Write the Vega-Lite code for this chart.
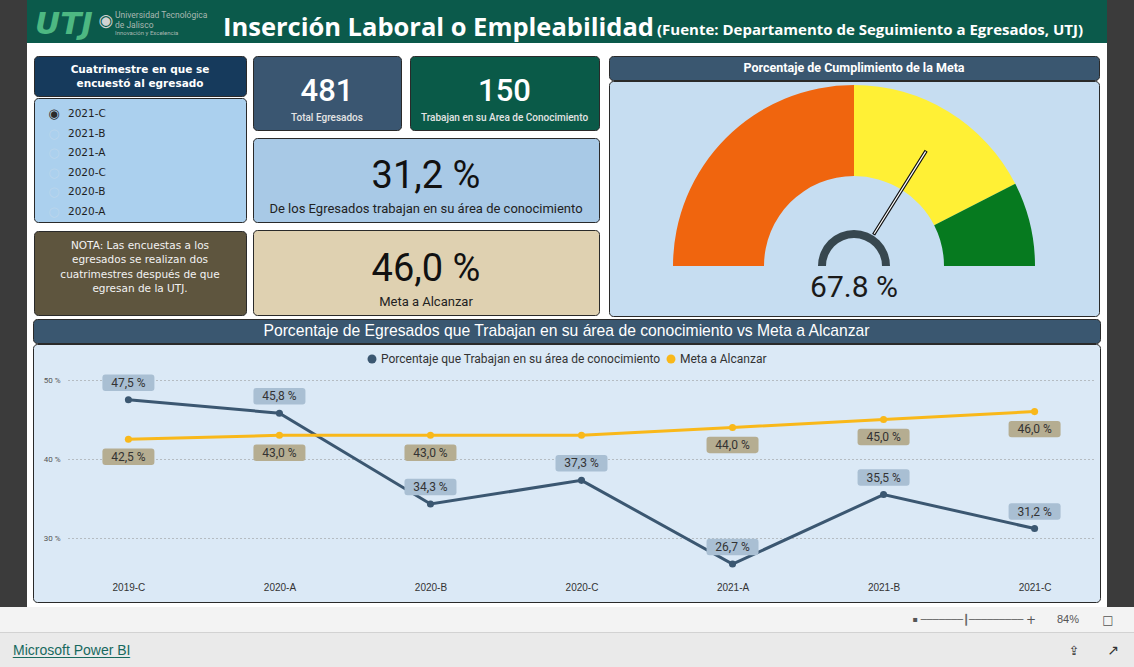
{
  "$schema": "https://vega.github.io/schema/vega-lite/v6.json",
  "padding": 0,
  "background": "#ffffff",
  "spacing": 0,
  "config": {
    "view": {"stroke": null},
    "font": "Roboto",
    "locale": {"number": {"decimal": ",", "thousands": ".", "grouping": [3], "currency": ["", " %"]}}
  },
  "vconcat": [
    {
      "spacing": 0,
      "hconcat": [
        {"width": 27, "height": 607, "view": {"fill": "#3b3b3b"}, "data": {"values": [{}]}, "mark": {"type": "text", "text": "", "fontSize": 0}},
        {
          "spacing": 0,
          "vconcat": [
            {
              "width": 1080, "height": 43,
              "view": {"fill": "#0b5a4b"},
              "data": {"values": [{}]},
              "layer": [
                {"mark": {"type": "text", "text": "UTJ", "align": "left", "baseline": "alphabetic", "dx": -532, "dy": 12.5, "font": "DejaVu Sans", "fontWeight": "bold", "fontStyle": "italic", "fontSize": 31, "color": "#4db882"}},
                {"mark": {"type": "text", "text": "◉", "align": "center", "baseline": "middle", "dx": -461, "dy": -0.5, "font": "DejaVu Sans", "fontSize": 17, "color": "#d2d2d2"}},
                {"mark": {"type": "text", "text": "Universidad Tecnológica", "align": "left", "baseline": "middle", "dx": -452, "dy": -7, "font": "Roboto", "fontSize": 8.5, "color": "#a9b8b2"}},
                {"mark": {"type": "text", "text": "de Jalisco", "align": "left", "baseline": "middle", "dx": -452, "dy": 3.5, "font": "Roboto", "fontSize": 8.5, "color": "#a9b8b2"}},
                {"mark": {"type": "text", "text": "Innovación y Excelencia", "align": "left", "baseline": "middle", "dx": -452, "dy": 11.5, "font": "Roboto", "fontSize": 6, "color": "#a9b8b2"}},
                {"mark": {"type": "text", "text": "Inserción Laboral o Empleabilidad", "align": "left", "baseline": "alphabetic", "dx": -344, "dy": 14, "font": "Open Sans", "fontWeight": "bold", "fontSize": 25.5, "color": "#ffffff"}},
                {"mark": {"type": "text", "text": "(Fuente: Departamento de Seguimiento a Egresados, UTJ)", "align": "left", "baseline": "alphabetic", "dx": 90, "dy": 13.5, "font": "Open Sans", "fontWeight": "bold", "fontSize": 15, "color": "#ffffff"}}
              ]
            },
            {"width": 1, "height": 12, "data": {"values": [{}]}, "mark": {"type": "text", "text": "", "fontSize": 0}},
            {
              "spacing": 0,
              "hconcat": [
                {"width": 6, "height": 259, "data": {"values": [{}]}, "mark": {"type": "text", "text": "", "fontSize": 0}},
                {
                  "spacing": 8,
                  "hconcat": [
                    {
                      "spacing": 5,
                      "hconcat": [
                        {
                          "spacing": 7,
                          "vconcat": [
                            {
                              "spacing": 0,
                              "vconcat": [
                                {
                                  "width": 212, "height": 40,
                                  "view": {"fill": "#163a5c", "stroke": "#2a2a2a", "strokeWidth": 1, "cornerRadius": 4},
                                  "data": {"values": [{}]},
                                  "mark": {"type": "text", "text": ["Cuatrimestre en que se", "encuestó al egresado"], "lineHeight": 13.5, "align": "center", "baseline": "middle", "dy": -6, "font": "DejaVu Sans", "fontWeight": "bold", "fontSize": 10.5, "color": "#ffffff"}
                                },
                                {
                                  "width": 212, "height": 124,
                                  "view": {"fill": "#abd0ee", "stroke": "#2a2a2a", "strokeWidth": 1, "cornerRadius": 4},
                                  "data": {"values": [
                                    {"cuatrimestre": "2021-C", "seleccionado": true},
                                    {"cuatrimestre": "2021-B", "seleccionado": false},
                                    {"cuatrimestre": "2021-A", "seleccionado": false},
                                    {"cuatrimestre": "2020-C", "seleccionado": false},
                                    {"cuatrimestre": "2020-B", "seleccionado": false},
                                    {"cuatrimestre": "2020-A", "seleccionado": false}
                                  ]},
                                  "encoding": {
                                    "y": {"field": "cuatrimestre", "type": "nominal", "sort": null, "scale": {"type": "point", "range": [16, 114], "padding": 0}, "axis": null}
                                  },
                                  "layer": [
                                    {"mark": {"type": "text", "align": "left", "baseline": "middle", "dx": -72, "font": "DejaVu Sans", "fontSize": 10.5, "color": "#1e1e1e"}, "encoding": {"text": {"field": "cuatrimestre", "type": "nominal"}}},
                                    {"transform": [{"filter": "datum.seleccionado"}], "mark": {"type": "text", "text": "◉", "align": "center", "baseline": "middle", "dx": -86, "font": "DejaVu Sans", "fontSize": 13, "color": "#2b2b2b"}},
                                    {"transform": [{"filter": "!datum.seleccionado"}], "mark": {"type": "text", "text": "○", "align": "center", "baseline": "middle", "dx": -86, "font": "DejaVu Sans", "fontSize": 13, "color": "#bcd6ec"}}
                                  ]
                                }
                              ]
                            },
                            {
                              "width": 212, "height": 84,
                              "view": {"fill": "#5e553e", "stroke": "#2a2a2a", "strokeWidth": 1, "cornerRadius": 4},
                              "data": {"values": [{}]},
                              "mark": {"type": "text", "text": ["NOTA: Las encuestas a los", "egresados se realizan dos", "cuatrimestres después de que", "egresan de la UTJ."], "lineHeight": 14.3, "align": "center", "baseline": "middle", "dy": -27, "font": "DejaVu Sans", "fontSize": 10.5, "color": "#f2f2f2"}
                            }
                          ]
                        },
                        {
                          "spacing": 6,
                          "vconcat": [
                            {
                              "spacing": 7,
                              "hconcat": [
                                {
                                  "width": 148, "height": 74,
                                  "view": {"fill": "#3a5671", "stroke": "#2a2a2a", "strokeWidth": 1, "cornerRadius": 4},
                                  "data": {"values": [{"total_egresados": 481}]},
                                  "layer": [
                                    {"mark": {"type": "text", "align": "center", "baseline": "middle", "dy": -1.5, "font": "Roboto", "fontWeight": 500, "fontSize": 31, "color": "#ffffff"}, "encoding": {"text": {"field": "total_egresados", "type": "quantitative", "format": "d"}}},
                                    {"mark": {"type": "text", "text": "Total Egresados", "align": "center", "baseline": "middle", "dy": 25, "font": "Roboto", "fontWeight": 500, "fontSize": 10, "color": "#e4e4e4"}}
                                  ]
                                },
                                {
                                  "width": 189, "height": 74,
                                  "view": {"fill": "#0a5a48", "stroke": "#2a2a2a", "strokeWidth": 1, "cornerRadius": 4},
                                  "data": {"values": [{"trabajan_area": 150}]},
                                  "layer": [
                                    {"mark": {"type": "text", "align": "center", "baseline": "middle", "dy": -1.5, "font": "Roboto", "fontWeight": 500, "fontSize": 31, "color": "#ffffff"}, "encoding": {"text": {"field": "trabajan_area", "type": "quantitative", "format": "d"}}},
                                    {"mark": {"type": "text", "text": "Trabajan en su Area de Conocimiento", "align": "center", "baseline": "middle", "dy": 25, "font": "Roboto", "fontWeight": 500, "fontSize": 10, "color": "#e4e4e4"}}
                                  ]
                                }
                              ]
                            },
                            {
                              "width": 346, "height": 84,
                              "view": {"fill": "#a8c9e6", "stroke": "#2a2a2a", "strokeWidth": 1, "cornerRadius": 4},
                              "data": {"values": [{"porcentaje": 31.2}]},
                              "layer": [
                                {"mark": {"type": "text", "align": "center", "baseline": "middle", "dy": -3.5, "font": "Roboto", "fontSize": 38, "color": "#111111"}, "encoding": {"text": {"field": "porcentaje", "type": "quantitative", "format": "$.1f"}}},
                                {"mark": {"type": "text", "text": "De los Egresados trabajan en su área de conocimiento", "align": "center", "baseline": "middle", "dy": 29, "font": "Roboto", "fontSize": 13, "color": "#222222"}}
                              ]
                            },
                            {
                              "width": 346, "height": 85,
                              "view": {"fill": "#dfd1b1", "stroke": "#2a2a2a", "strokeWidth": 1, "cornerRadius": 4},
                              "data": {"values": [{"meta": 46.0}]},
                              "layer": [
                                {"mark": {"type": "text", "align": "center", "baseline": "middle", "dy": -2.5, "font": "Roboto", "fontSize": 38, "color": "#111111"}, "encoding": {"text": {"field": "meta", "type": "quantitative", "format": "$.1f"}}},
                                {"mark": {"type": "text", "text": "Meta a Alcanzar", "align": "center", "baseline": "middle", "dy": 29.5, "font": "Roboto", "fontSize": 13, "color": "#222222"}}
                              ]
                            }
                          ]
                        }
                      ]
                    },
                    {
                      "spacing": -2,
                      "vconcat": [
                        {
                          "width": 490, "height": 24,
                          "view": {"fill": "#3a5770", "stroke": "#2a2a2a", "strokeWidth": 1, "cornerRadius": 4},
                          "data": {"values": [{}]},
                          "mark": {"type": "text", "text": "Porcentaje de Cumplimiento de la Meta", "align": "center", "baseline": "middle", "font": "Roboto", "fontWeight": "bold", "fontSize": 12.5, "color": "#ffffff"}
                        },
                        {
                          "width": 490, "height": 235,
                          "view": {"fill": "#c6ddf1", "stroke": "#2a2a2a", "strokeWidth": 1, "cornerRadius": 4},
                          "data": {"values": [
                            {"rango": "Bajo", "inicio": 0, "fin": 50},
                            {"rango": "Medio", "inicio": 50, "fin": 85},
                            {"rango": "Alto", "inicio": 85, "fin": 100}
                          ]},
                          "layer": [
                            {
                              "transform": [{"filter": {"field": "rango", "equal": "Bajo"}}],
                              "mark": {"type": "arc", "radius": 181, "radius2": 90, "color": "#f0650e", "y": "height", "yOffset": -50},
                              "encoding": {
                                "theta": {"field": "inicio", "type": "quantitative", "stack": null, "scale": {"domain": [0, 100], "range": [-1.5708, 1.5708]}},
                                "theta2": {"field": "fin"}
                              }
                            },
                            {
                              "transform": [{"filter": {"field": "rango", "equal": "Medio"}}],
                              "mark": {"type": "arc", "radius": 181, "radius2": 90, "color": "#fff035", "y": "height", "yOffset": -50},
                              "encoding": {
                                "theta": {"field": "inicio", "type": "quantitative", "stack": null, "scale": {"domain": [0, 100], "range": [-1.5708, 1.5708]}},
                                "theta2": {"field": "fin"}
                              }
                            },
                            {
                              "transform": [{"filter": {"field": "rango", "equal": "Alto"}}],
                              "mark": {"type": "arc", "radius": 181, "radius2": 90, "color": "#067a1f", "y": "height", "yOffset": -50},
                              "encoding": {
                                "theta": {"field": "inicio", "type": "quantitative", "stack": null, "scale": {"domain": [0, 100], "range": [-1.5708, 1.5708]}},
                                "theta2": {"field": "fin"}
                              }
                            },
                            {
                              "data": {"values": [{}]},
                              "mark": {"type": "arc", "theta": -1.5708, "theta2": 1.5708, "radius": 36, "radius2": 28, "color": "#37474f", "y": "height", "yOffset": -50},
                              "encoding": {}
                            },
                            {
                              "data": {"values": [{"cumplimiento": 67.8}]},
                              "mark": {"type": "arc", "radius": 136, "radius2": 37, "filled": false, "color": "#111111", "strokeWidth": 3.5, "y": "height", "yOffset": -50},
                              "encoding": {
                                "theta": {"field": "cumplimiento", "type": "quantitative", "stack": null, "scale": {"domain": [0, 100], "range": [-1.5708, 1.5708]}},
                                "theta2": {"field": "cumplimiento"}
                              }
                            },
                            {
                              "data": {"values": [{"cumplimiento": 67.8}]},
                              "mark": {"type": "arc", "radius": 135, "radius2": 38, "filled": false, "color": "#ffffff", "strokeWidth": 1.2, "y": "height", "yOffset": -50},
                              "encoding": {
                                "theta": {"field": "cumplimiento", "type": "quantitative", "stack": null, "scale": {"domain": [0, 100], "range": [-1.5708, 1.5708]}},
                                "theta2": {"field": "cumplimiento"}
                              }
                            },
                            {
                              "data": {"values": [{"cumplimiento": 67.8, "texto": "67.8 %"}]},
                              "mark": {"type": "text", "align": "center", "baseline": "middle", "dy": 89.5, "font": "Roboto", "fontSize": 30, "color": "#1a1a1a"},
                              "encoding": {"text": {"field": "texto", "type": "nominal"}}
                            }
                          ]
                        }
                      ]
                    }
                  ]
                }
              ]
            },
            {"width": 1, "height": 1, "data": {"values": [{}]}, "mark": {"type": "text", "text": "", "fontSize": 0}},
            {
              "spacing": 0,
              "hconcat": [
                {"width": 5, "height": 282, "data": {"values": [{}]}, "mark": {"type": "text", "text": "", "fontSize": 0}},
                {
                  "spacing": -2,
                  "vconcat": [
                    {
                      "width": 1067, "height": 24,
                      "view": {"fill": "#3a5770", "stroke": "#2a2a2a", "strokeWidth": 1, "cornerRadius": 4},
                      "data": {"values": [{}]},
                      "mark": {"type": "text", "text": "Porcentaje de Egresados que Trabajan en su área de conocimiento vs Meta a Alcanzar", "align": "center", "baseline": "middle", "font": "Liberation Sans", "fontSize": 15.7, "color": "#ffffff"}
                    },
                    {
                      "width": 1067, "height": 258,
                      "view": {"fill": "#dbe9f6", "stroke": "#2a2a2a", "strokeWidth": 1, "cornerRadius": 4},
                      "data": {"values": [
                        {"cuatrimestre": "2019-C", "serie": "Porcentaje que Trabajan en su área de conocimiento", "valor": 47.5},
                        {"cuatrimestre": "2020-A", "serie": "Porcentaje que Trabajan en su área de conocimiento", "valor": 45.8},
                        {"cuatrimestre": "2020-B", "serie": "Porcentaje que Trabajan en su área de conocimiento", "valor": 34.3},
                        {"cuatrimestre": "2020-C", "serie": "Porcentaje que Trabajan en su área de conocimiento", "valor": 37.3},
                        {"cuatrimestre": "2021-A", "serie": "Porcentaje que Trabajan en su área de conocimiento", "valor": 26.7},
                        {"cuatrimestre": "2021-B", "serie": "Porcentaje que Trabajan en su área de conocimiento", "valor": 35.5},
                        {"cuatrimestre": "2021-C", "serie": "Porcentaje que Trabajan en su área de conocimiento", "valor": 31.2},
                        {"cuatrimestre": "2019-C", "serie": "Meta a Alcanzar", "valor": 42.5},
                        {"cuatrimestre": "2020-A", "serie": "Meta a Alcanzar", "valor": 43.0},
                        {"cuatrimestre": "2020-B", "serie": "Meta a Alcanzar", "valor": 43.0},
                        {"cuatrimestre": "2020-C", "serie": "Meta a Alcanzar", "valor": 43.0},
                        {"cuatrimestre": "2021-A", "serie": "Meta a Alcanzar", "valor": 44.0},
                        {"cuatrimestre": "2021-B", "serie": "Meta a Alcanzar", "valor": 45.0},
                        {"cuatrimestre": "2021-C", "serie": "Meta a Alcanzar", "valor": 46.0}
                      ]},
                      "encoding": {
                        "x": {"field": "cuatrimestre", "type": "ordinal", "sort": ["2019-C", "2020-A", "2020-B", "2020-C", "2021-A", "2021-B", "2021-C"], "scale": {"type": "point", "range": [35, 1062], "padding": 0.4}, "axis": {"title": null, "domain": false, "ticks": false, "tickSize": 0, "labelPadding": -15, "labelBaseline": "middle", "labelAngle": 0, "labelFont": "Liberation Sans", "labelFontSize": 10, "labelColor": "#333333"}},
                        "y": {"field": "valor", "type": "quantitative", "scale": {"domain": [21.9, 54.56], "nice": false, "zero": false}, "axis": {"title": null, "domain": false, "ticks": false, "tickSize": 0, "values": [30, 40, 50], "format": "$.0f", "labelPadding": -27, "labelFont": "Roboto", "labelFontSize": 8, "labelColor": "#555555", "grid": true, "gridColor": "#8f8f8f", "gridDash": [1, 3]}},
                        "color": {"field": "serie", "type": "nominal", "scale": {"domain": ["Porcentaje que Trabajan en su área de conocimiento", "Meta a Alcanzar"], "range": ["#3b5771", "#f9b81a"]}, "legend": {"title": null, "orient": "none", "legendX": 366, "legendY": 353, "direction": "horizontal", "symbolType": "circle", "symbolSize": 80, "symbolStrokeWidth": 0, "labelFont": "Roboto", "labelFontSize": 12, "labelColor": "#333333", "labelLimit": 400, "columnPadding": 4, "labelOffset": 3}}
                      },
                      "layer": [
                        {"mark": {"type": "line", "strokeWidth": 3}},
                        {"mark": {"type": "point", "filled": true, "size": 50, "opacity": 1}},
                        {
                          "transform": [{"filter": {"field": "serie", "equal": "Porcentaje que Trabajan en su área de conocimiento"}}],
                          "mark": {"type": "point", "shape": "M-0.885,-0.317L0.885,-0.317Q1,-0.317,1,-0.2L1,0.2Q1,0.317,0.885,0.317L-0.885,0.317Q-1,0.317,-1,0.2L-1,-0.2Q-1,-0.317,-0.885,-0.317Z", "size": 2704, "filled": true, "opacity": 1, "yOffset": -17},
                          "encoding": {"color": {"value": "#a9bfd3"}}
                        },
                        {
                          "transform": [{"filter": "datum.serie == 'Meta a Alcanzar' && datum.cuatrimestre != '2020-C'"}],
                          "mark": {"type": "point", "shape": "M-0.885,-0.317L0.885,-0.317Q1,-0.317,1,-0.2L1,0.2Q1,0.317,0.885,0.317L-0.885,0.317Q-1,0.317,-1,0.2L-1,-0.2Q-1,-0.317,-0.885,-0.317Z", "size": 2704, "filled": true, "opacity": 1, "yOffset": 17.5},
                          "encoding": {"color": {"value": "#b5ad91"}}
                        },
                        {
                          "transform": [{"filter": {"field": "serie", "equal": "Porcentaje que Trabajan en su área de conocimiento"}}],
                          "mark": {"type": "text", "align": "center", "baseline": "middle", "dy": -17, "font": "Roboto", "fontSize": 12},
                          "encoding": {"text": {"field": "valor", "type": "quantitative", "format": "$.1f"}, "color": {"value": "#333333"}}
                        },
                        {
                          "transform": [{"filter": "datum.serie == 'Meta a Alcanzar' && datum.cuatrimestre != '2020-C'"}],
                          "mark": {"type": "text", "align": "center", "baseline": "middle", "dy": 17.5, "font": "Roboto", "fontSize": 12},
                          "encoding": {"text": {"field": "valor", "type": "quantitative", "format": "$.1f"}, "color": {"value": "#333333"}}
                        }
                      ]
                    }
                  ]
                }
              ]
            }
          ]
        },
        {"width": 27, "height": 607, "view": {"fill": "#3b3b3b"}, "data": {"values": [{}]}, "mark": {"type": "text", "text": "", "fontSize": 0}}
      ]
    },
    {
      "width": 1134, "height": 25,
      "view": {"fill": "#f3f3f3"},
      "data": {"values": [{}]},
      "layer": [
        {"mark": {"type": "text", "text": "▪", "align": "center", "baseline": "middle", "dx": 348, "font": "DejaVu Sans", "fontSize": 8, "color": "#555555"}},
        {"mark": {"type": "text", "text": "───────┃─────────", "align": "center", "baseline": "middle", "dx": 405, "font": "DejaVu Sans", "fontSize": 10, "color": "#666666"}},
        {"mark": {"type": "text", "text": "+", "align": "center", "baseline": "middle", "dx": 464, "font": "DejaVu Sans", "fontSize": 12, "color": "#555555"}},
        {"mark": {"type": "text", "text": "84%", "align": "center", "baseline": "middle", "dx": 501, "font": "Liberation Sans", "fontSize": 11, "color": "#555555"}},
        {"mark": {"type": "text", "text": "□", "align": "center", "baseline": "middle", "dx": 541, "font": "DejaVu Sans", "fontSize": 12, "color": "#555555"}}
      ]
    },
    {"width": 1134, "height": 1, "view": {"fill": "#d2d2d2"}, "data": {"values": [{}]}, "mark": {"type": "text", "text": "", "fontSize": 0}},
    {
      "width": 1134, "height": 34,
      "view": {"fill": "#eaeaea"},
      "data": {"values": [{}]},
      "layer": [
        {"mark": {"type": "text", "text": "Microsoft Power BI", "align": "left", "baseline": "middle", "dx": -554, "dy": 1, "font": "Liberation Sans", "fontSize": 14, "color": "#17695e"}},
        {"mark": {"type": "text", "text": "_______________", "align": "left", "baseline": "middle", "dx": -554, "dy": 1, "font": "Liberation Sans", "fontSize": 14, "color": "#17695e"}},
        {"mark": {"type": "text", "text": "⇪", "align": "center", "baseline": "middle", "dx": 507, "dy": 1, "font": "DejaVu Sans", "fontSize": 13, "color": "#333333"}},
        {"mark": {"type": "text", "text": "↗", "align": "center", "baseline": "middle", "dx": 546, "dy": 1, "font": "DejaVu Sans", "fontSize": 14, "color": "#333333"}}
      ]
    }
  ]
}
